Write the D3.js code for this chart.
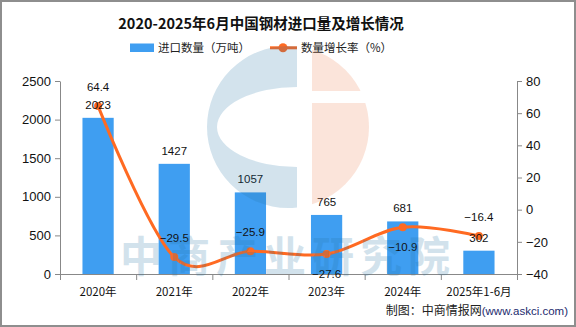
<!DOCTYPE html>
<html><head><meta charset="utf-8">
<script src="https://cdn.jsdelivr.net/npm/d3@7"></script>
<style>html,body{margin:0;padding:0;background:#fff}svg{display:block}</style>
</head><body>
<svg id="c" width="576" height="327"></svg>
<script>
const categories = ["2020年","2021年","2022年","2023年","2024年","2025年1-6月"];
const importVolume = [2023, 1427, 1057, 765, 681, 302];
const growthRate = [64.4, -29.5, -25.9, -27.6, -10.9, -16.4];
const leftTicks = [0, 500, 1000, 1500, 2000, 2500];
const rightTicks = [-40, -20, 0, 20, 40, 60, 80];
const growthLabelBelow = [false, false, false, true, true, false];

const svg = d3.select("#c");
const L = 60, R = 517, T = 81, B = 274;
const barColor = "#3f9ef1", lineColor = "#ff6a22";
const sans = "'Liberation Sans', Arial, sans-serif";
const cjk = "'Noto Sans CJK SC', sans-serif";

svg.append("rect").attr("x",1).attr("y",1).attr("width",574).attr("height",325)
  .attr("fill","#fff").attr("stroke","#8e8e8e").attr("stroke-width",2);

const x = d3.scaleBand().domain(categories).range([L,R]).paddingInner(0.59).paddingOuter(0.295);
const xi = d3.scaleLinear().domain([0,categories.length]).range([L,R]);
const yL = d3.scaleLinear().domain([0,2500]).range([B,T]);
const yR = d3.scaleLinear().domain([-40,80]).range([B,T]);

// title
svg.append("text").attr("x",261).attr("y",29).attr("text-anchor","middle")
  .attr("font-family",cjk).attr("font-weight","bold").attr("font-size",14.5).attr("fill","#111")
  .text("2020-2025年6月中国钢材进口量及增长情况");

// legend
svg.append("rect").attr("x",130).attr("y",43.5).attr("width",24).attr("height",8.5).attr("fill",barColor);
svg.append("text").attr("x",158).attr("y",52).attr("font-family",cjk).attr("font-size",11.5).attr("fill","#222").text("进口数量（万吨）");
svg.append("line").attr("x1",270).attr("x2",297).attr("y1",47.8).attr("y2",47.8).attr("stroke",lineColor).attr("stroke-width",3);
svg.append("circle").attr("cx",283).attr("cy",47.8).attr("r",4.5).attr("fill",lineColor);
svg.append("text").attr("x",301).attr("y",52).attr("font-family",cjk).attr("font-size",11.5).attr("fill","#222").text("数量增长率（%）");

// axes
const axColor = "#888";
const gL = svg.append("g").attr("transform",`translate(${L},0)`)
  .call(d3.axisLeft(yL).tickValues(leftTicks).tickSize(5).tickSizeOuter(0).tickPadding(4).tickFormat(d3.format("d")));
const gR = svg.append("g").attr("transform",`translate(${R},0)`)
  .call(d3.axisRight(yR).tickValues(rightTicks).tickSize(5).tickSizeOuter(0).tickPadding(4).tickFormat(d=>d<0?"−"+Math.abs(d):d));
const gB = svg.append("g").attr("transform",`translate(0,${B})`)
  .call(d3.axisBottom(xi).tickValues(d3.range(categories.length+1)).tickSize(6).tickSizeOuter(0).tickFormat(""));
[gL,gR,gB].forEach(g=>{
  g.selectAll("path,line").attr("stroke",axColor);
  g.selectAll("text").attr("font-family",sans).attr("font-size",13).attr("fill","#111");
});
svg.append("g").selectAll("text").data(categories).join("text")
  .attr("x",d=>x(d)+x.bandwidth()/2).attr("y",296).attr("text-anchor","middle")
  .attr("font-family",cjk).attr("font-size",11.5).attr("fill","#111").text(d=>d);

// bars
svg.append("g").selectAll("rect").data(importVolume).join("rect")
  .attr("x",(d,i)=>x(categories[i])).attr("width",x.bandwidth())
  .attr("y",d=>yL(d)).attr("height",d=>B-yL(d)).attr("fill",barColor);

// line
const pts = growthRate.map((v,i)=>[x(categories[i])+x.bandwidth()/2, yR(v)]);
svg.append("path").datum(pts).attr("d",d3.line().curve(d3.curveCardinal.tension(0)))
  .attr("fill","none").attr("stroke",lineColor).attr("stroke-width",3);
svg.append("g").selectAll("circle").data(pts).join("circle")
  .attr("cx",d=>d[0]).attr("cy",d=>d[1]).attr("r",4).attr("fill",lineColor);

// bar labels
svg.append("g").selectAll("text").data(importVolume).join("text")
  .attr("x",(d,i)=>x(categories[i])+x.bandwidth()/2).attr("y",d=>yL(d)-9)
  .attr("text-anchor","middle").attr("font-family",sans).attr("font-size",11.5).attr("fill","#111").text(d=>d);
// growth labels
svg.append("g").selectAll("text").data(growthRate).join("text")
  .attr("x",(d,i)=>pts[i][0]).attr("y",(d,i)=>growthLabelBelow[i]?pts[i][1]+24:pts[i][1]-15)
  .attr("text-anchor","middle").attr("font-family",sans).attr("font-size",11.5).attr("fill","#111")
  .text(d=>d<0?"−"+Math.abs(d).toFixed(1):d.toFixed(1));

// watermark
const wm = svg.append("g").attr("pointer-events","none");
const cx0 = 288, cy0 = 127, rr = 81;
const clipBlue = svg.append("defs").append("clipPath").attr("id","cb");
clipBlue.append("rect").attr("x",cx0-rr-2).attr("y",cy0-rr-2).attr("width",297-(cx0-rr-2)).attr("height",2*rr+4);
wm.append("path").attr("clip-path","url(#cb)").attr("fill-rule","evenodd")
  .attr("d",`M${cx0-rr},${cy0} a${rr},${rr} 0 1,0 ${2*rr},0 a${rr},${rr} 0 1,0 ${-2*rr},0 Z
             M${cx0-71},${cy0} a80,40 0 1,0 160,0 a80,40 0 1,0 -160,0 Z`)
  .attr("fill","rgb(35,115,165)").attr("opacity",0.2);
const clipPeach = svg.select("defs").append("clipPath").attr("id","cp");
clipPeach.append("rect").attr("x",312).attr("y",cy0-rr-2).attr("width",rr).attr("height",91-(cy0-rr-2));
clipPeach.append("rect").attr("x",312).attr("y",103).attr("width",rr).attr("height",cy0+rr-101);
wm.append("circle").attr("clip-path","url(#cp)").attr("cx",cx0).attr("cy",cy0).attr("r",rr)
  .attr("fill","rgb(235,120,70)").attr("opacity",0.2);
wm.append("text").attr("x",288).attr("y",272).attr("text-anchor","middle")
  .attr("font-family",cjk).attr("font-weight","bold").attr("font-size",42).attr("letter-spacing",6)
  .attr("fill","rgb(35,115,165)").attr("opacity",0.2).text("中商产业研究院");

// source
const src = svg.append("text").attr("x",568).attr("y",315).attr("text-anchor","end")
  .attr("font-family",cjk).attr("font-size",12).attr("fill","#222");
src.append("tspan").text("制图：中商情报网");
src.append("tspan").attr("font-family",sans).attr("font-size",11.5).attr("fill","#1d2b6e").text("(www.askci.com)");
</script>
</body></html>
